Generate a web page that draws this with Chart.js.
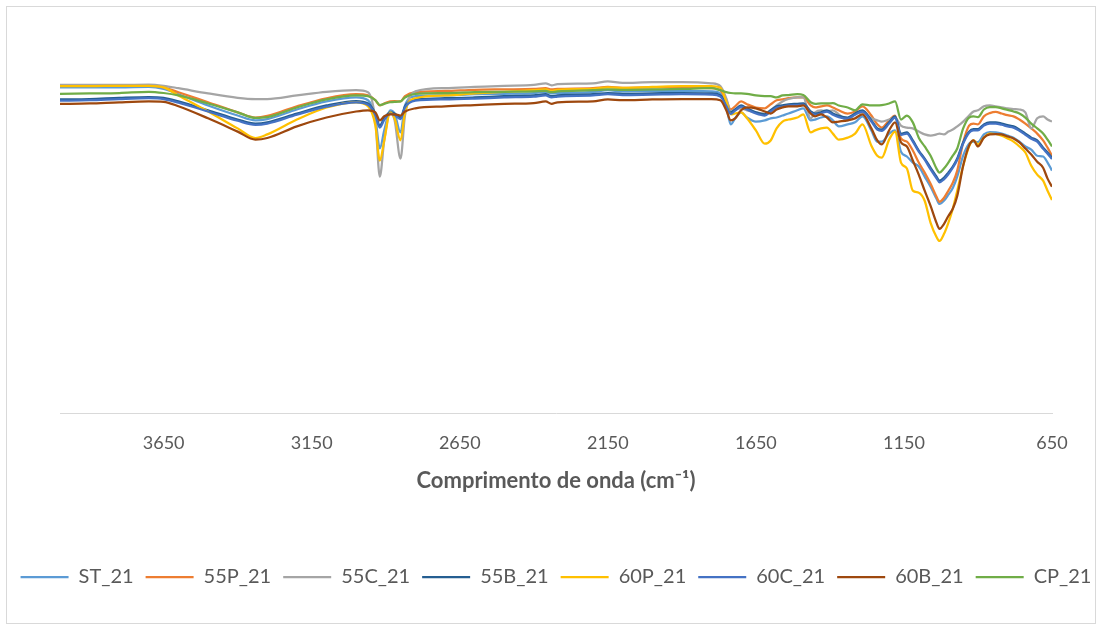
<!DOCTYPE html>
<html>
<head>
<meta charset="utf-8">
<script src="https://cdn.jsdelivr.net/npm/chart.js@4.4.1/dist/chart.umd.min.js"></script>
<style>
  html, body { margin: 0; padding: 0; background: #ffffff; }
  #wrap { position: relative; width: 1102px; height: 630px; }
</style>
</head>
<body>
<div id="wrap"><canvas id="chart" width="1102" height="630"></canvas></div>
<script>
// FTIR spectra, transmittance (%) against wavenumber (cm-1)
const wavenumbers = [4000,3900,3800,3700,3650,3600,3500,3400,3340,3300,
  3200,3100,3000,2960,2935,2920,2905,2885,2870,2850,
  2835,2800,2700,2600,2500,2400,2360,2340,2320,2200,
  2150,2100,2000,1900,1800,1770,1750,1735,1720,1700,
  1680,1650,1620,1600,1580,1560,1540,1510,1490,1465,
  1450,1430,1410,1390,1370,1340,1315,1290,1260,1240,
  1225,1200,1180,1160,1140,1120,1100,1080,1060,1040,
  1030,1015,1000,985,970,950,930,915,900,880,
  860,840,820,800,780,760,740,720,700,680,
  665,650];

const ST_21 = [81.0,81.0,81.0,81.1,80.6,79.3,76.5,74.0,72.8,73.1,
  75.5,77.5,78.5,77.8,73.3,65.8,70.3,75.3,74.5,69.8,
  76.5,78.8,79.0,79.3,79.4,79.6,79.9,79.5,79.6,79.9,
  80.3,80.0,80.1,80.1,80.0,79.5,76.3,71.8,73.3,74.8,
  73.5,72.5,72.8,73.3,73.5,74.0,74.5,75.3,75.8,72.8,
  73.0,73.5,73.8,72.8,71.3,71.8,72.3,73.8,70.3,67.5,
  67.5,69.5,70.3,65.0,63.8,62.3,61.3,58.8,56.3,53.3,
  52.0,52.8,54.3,56.0,58.8,64.0,67.0,67.5,67.4,69.3,
  69.9,69.8,69.5,69.0,68.5,67.5,66.3,65.5,64.0,63.8,
  62.3,60.3];

const P55_21 = [81.4,81.4,81.4,81.5,81.0,79.8,77.3,74.8,73.5,73.9,
  76.3,78.3,79.3,79.0,77.8,76.5,77.0,77.5,77.6,77.5,
  78.8,79.8,80.1,80.4,80.5,80.6,80.8,80.5,80.6,80.8,
  81.1,80.9,81.0,81.0,80.8,80.3,77.8,75.5,76.3,77.5,
  76.8,76.0,75.8,76.8,77.8,78.0,78.3,78.5,78.5,76.5,
  76.0,76.3,76.5,76.0,75.3,74.5,75.0,76.3,74.0,71.8,
  71.0,72.8,74.0,68.3,67.5,65.3,62.3,59.8,57.0,53.8,
  52.5,53.5,55.3,57.3,60.3,67.3,71.5,72.0,71.8,73.8,
  74.6,74.9,74.5,74.1,73.8,73.0,72.0,70.8,69.5,67.8,
  66.0,64.0];

const C55_21 = [81.6,81.6,81.6,81.7,81.4,80.8,79.5,78.4,78.1,78.1,
  79.0,79.9,80.3,79.8,72.8,58.8,67.8,74.8,72.8,63.3,
  74.0,80.0,80.8,81.1,81.4,81.6,82.0,81.5,81.8,82.0,
  82.5,82.1,82.3,82.3,82.0,81.3,78.3,75.0,75.5,75.8,
  75.3,74.8,74.5,75.3,76.5,77.5,78.1,78.5,78.5,73.3,
  74.8,75.3,75.0,75.3,74.3,72.8,74.5,74.8,73.3,72.8,
  72.5,73.0,73.5,71.5,71.0,70.8,70.0,69.3,69.0,69.3,
  69.5,69.3,70.0,70.5,71.3,72.5,74.0,75.0,75.3,76.3,
  76.5,76.3,76.0,75.8,75.6,75.5,74.8,70.8,73.3,73.8,
  73.0,72.5];

const B55_21 = [78.0,78.1,78.4,78.6,78.4,77.5,75.3,73.0,72.0,72.3,
  74.5,76.5,77.6,77.0,74.5,71.5,73.3,74.8,74.5,73.5,
  76.3,78.0,78.3,78.5,78.8,79.0,79.3,78.8,79.0,79.3,
  79.6,79.4,79.5,79.6,79.5,79.0,76.8,74.8,75.5,76.5,
  75.8,74.8,74.3,75.3,76.3,76.5,76.8,76.9,77.0,75.0,
  74.5,74.8,75.3,74.5,73.9,73.5,74.5,75.3,72.8,70.8,
  70.5,72.3,73.8,69.5,69.8,67.8,65.3,63.3,61.0,58.8,
  57.8,58.5,59.8,61.3,63.3,67.3,70.0,70.6,70.6,71.8,
  72.3,72.3,72.0,71.6,71.3,70.5,69.5,68.5,67.8,66.0,
  64.8,63.5];

const P60_21 = [81.3,81.3,81.4,81.4,81.0,79.0,75.0,70.8,68.4,69.3,
  73.0,76.0,77.3,76.3,71.5,62.8,67.8,74.8,73.3,67.8,
  74.8,78.3,79.0,79.5,79.9,80.3,80.5,80.1,80.4,80.6,
  81.0,80.9,81.1,81.3,81.3,80.9,77.5,74.3,74.5,74.8,
  73.3,70.3,67.0,67.8,70.8,72.5,73.0,73.5,74.3,69.8,
  70.3,70.8,71.0,69.5,68.0,68.5,69.5,71.8,66.5,64.0,
  63.5,68.0,70.0,62.3,60.8,55.3,54.8,52.8,47.3,43.8,
  42.8,44.5,47.3,50.8,55.3,61.5,66.3,67.8,66.8,68.5,
  69.5,69.4,69.0,68.3,67.5,66.3,64.8,61.5,59.3,57.8,
  55.3,53.0];

const C60_21 = [77.7,77.8,78.1,78.3,78.1,77.2,75.0,72.7,71.7,72.0,
  74.2,76.2,77.3,76.7,74.1,71.0,72.9,74.5,74.1,73.1,
  76.0,77.7,78.0,78.2,78.5,78.7,79.0,78.5,78.7,79.0,
  79.3,79.1,79.2,79.3,79.2,78.7,76.4,74.4,75.2,76.2,
  75.5,74.5,74.0,75.0,76.0,76.2,76.5,76.6,76.7,74.7,
  74.2,74.5,75.0,74.2,73.6,73.2,74.2,75.0,72.5,70.5,
  70.2,72.0,73.5,69.2,69.5,67.5,65.0,63.0,60.6,58.4,
  57.4,58.1,59.4,61.0,63.0,67.0,69.7,70.3,70.3,71.5,
  72.0,72.0,71.7,71.3,71.0,70.2,69.2,68.2,67.5,65.7,
  64.5,63.2];

const B60_21 = [76.9,77.0,77.3,77.5,77.4,76.3,73.3,70.0,68.0,68.4,
  71.3,73.5,75.0,75.3,74.8,72.8,73.8,74.3,74.3,74.0,
  75.0,75.8,76.3,76.6,76.9,77.1,77.5,76.9,77.3,77.5,
  78.0,77.8,78.0,78.1,78.1,77.8,75.3,72.8,73.3,75.3,
  76.0,75.8,75.0,74.5,75.5,76.0,76.3,76.3,76.5,74.5,
  73.8,74.3,73.5,72.3,72.5,72.8,73.3,74.3,70.8,67.8,
  66.8,70.3,72.3,67.3,66.3,62.8,59.3,55.3,51.5,47.3,
  45.8,47.0,49.0,50.8,54.0,61.5,66.5,67.8,66.3,68.5,
  69.3,69.4,69.3,68.8,68.3,67.3,65.8,64.3,62.5,61.0,
  58.3,56.3];

const CP_21 = [79.4,79.5,79.6,79.9,79.6,79.0,77.0,74.8,73.4,73.6,
  76.0,78.0,79.0,78.8,77.8,76.6,76.9,77.3,77.4,77.5,
  78.5,79.4,79.6,79.8,79.9,80.0,80.1,79.8,80.0,80.3,
  80.5,80.4,80.5,80.6,80.8,80.3,79.8,79.6,79.5,79.5,
  79.4,79.0,78.8,78.8,78.5,79.0,79.1,79.3,79.1,77.3,
  76.9,77.0,77.0,77.1,76.5,76.0,75.3,76.8,76.5,76.5,
  76.6,77.0,77.5,73.0,74.0,72.3,68.5,66.3,64.0,60.8,
  59.8,60.8,62.3,64.0,65.8,70.8,73.5,73.8,73.6,75.5,
  76.1,76.1,75.8,75.4,75.0,74.5,73.5,72.0,70.8,69.5,
  68.0,66.3];

const seriesNames = ['ST_21', '55P_21', '55C_21', '55B_21', '60P_21', '60C_21', '60B_21', 'CP_21'];
const seriesValues = [ST_21, P55_21, C55_21, B55_21, P60_21, C60_21, B60_21, CP_21];
const seriesColors = ['#5B9BD5', '#ED7D31', '#A5A5A5', '#255E91', '#FFC000', '#4472C4', '#9E480E', '#70AD47'];
const tickLabels = [3650, 3150, 2650, 2150, 1650, 1150, 650];

const FONT = "Lato, 'Open Sans', sans-serif";
const TEXT = '#595959';

const datasets = seriesNames.map((name, s) => ({
  label: name,
  data: wavenumbers.map((w, i) => ({ x: w, y: seriesValues[s][i] })),
  borderColor: seriesColors[s],
  backgroundColor: seriesColors[s],
  borderWidth: 2.25,
  pointRadius: 0,
  cubicInterpolationMode: 'monotone',
  // later series sit on top of earlier ones
  order: seriesNames.length - s
}));

const frame = {
  id: 'frame',
  beforeDraw(chart) {
    const ctx = chart.ctx;
    ctx.save();
    ctx.fillStyle = '#ffffff';
    ctx.fillRect(0, 0, chart.width, chart.height);
    ctx.strokeStyle = '#d9d9d9';
    ctx.lineWidth = 1;
    ctx.strokeRect(6.5, 6.5, 1089, 617);
    ctx.restore();
  }
};

// nudge the single legend row so it sits centred under the plot area
const legendNudge = {
  id: 'legendNudge',
  afterLayout(chart) {
    if (chart.legend) {
      chart.legend.left += 5;
      chart.legend.right += 5;
    }
  }
};

// empty side axes only reserve the margins around the plot
const sideAxis = (position, width) => ({
  type: 'linear', position, min: 0, max: 100,
  grid: { display: false, drawTicks: false },
  border: { display: false },
  ticks: { display: false },
  afterFit(scale) { scale.width = width; }
});

new Chart(document.getElementById('chart'), {
  type: 'line',
  data: { datasets },
  plugins: [frame, legendNudge],
  options: {
    responsive: false,
    animation: false,
    devicePixelRatio: 1,
    layout: { padding: { left: 0, right: 0, top: 11, bottom: 33 } },
    scales: {
      x: {
        type: 'linear',
        reverse: true,
        min: 650,
        max: 4000,
        afterBuildTicks(scale) { scale.ticks = tickLabels.map(v => ({ value: v })); },
        grid: { display: false, drawTicks: false },
        border: { display: true, color: '#d9d9d9', width: 1 },
        ticks: {
          autoSkip: false, maxRotation: 0, padding: 19,
          color: TEXT, font: { family: FONT, size: 18 },
          callback: v => String(v)
        },
        title: {
          display: true,
          text: 'Comprimento de onda (cm⁻¹)',
          color: TEXT,
          font: { family: FONT, size: 22, weight: 'bold' },
          padding: { top: -5, bottom: 61 }
        }
      },
      y: sideAxis('left', 60),
      y2: sideAxis('right', 50)
    },
    plugins: {
      tooltip: { enabled: false },
      legend: {
        position: 'bottom',
        labels: {
          usePointStyle: true,
          pointStyle: 'line',
          pointStyleWidth: 48,
          padding: 12,
          color: TEXT,
          font: { family: FONT, size: 20 },
          sort: (a, b) => a.datasetIndex - b.datasetIndex
        }
      }
    }
  }
});
</script>
</body>
</html>
